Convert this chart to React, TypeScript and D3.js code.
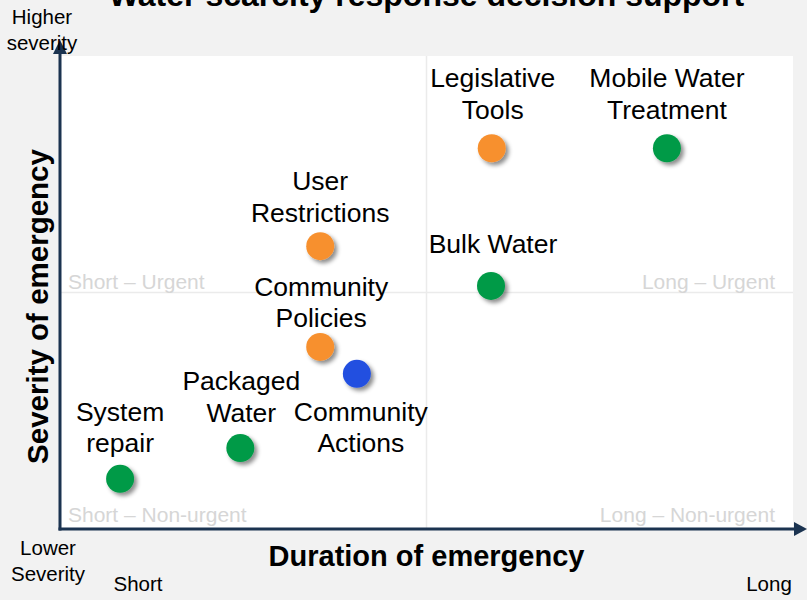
import React from "react";
import * as d3 from "d3";

const names = [
  "Legislative Tools",
  "Mobile Water Treatment",
  "User Restrictions",
  "Bulk Water",
  "Community Policies",
  "Community Actions",
  "Packaged Water",
  "System repair",
];
const labelLines = [
  ["Legislative", "Tools"],
  ["Mobile Water", "Treatment"],
  ["User", "Restrictions"],
  ["Bulk Water"],
  ["Community", "Policies"],
  ["Community", "Actions"],
  ["Packaged", "Water"],
  ["System", "repair"],
];
// duration (0 short .. 10 long)
const durationValues = [5.89, 8.28, 3.55, 5.88, 3.55, 4.05, 2.46, 0.82];
// severity (0 lower .. 10 higher)
const severityValues = [8.05, 8.05, 5.98, 5.14, 3.85, 3.28, 1.71, 1.06];
const groups = ["policy", "supply", "policy", "supply", "policy", "community", "supply", "supply"];
// label first-line baseline offset from point (px)
const labelDy = [-61, -61, -56, -33, -51, 47, -58, -58];
const labelDx = [1, 0, 0, 2, 1, 4, 1, 0];

const quadrantLabels = ["Short – Urgent", "Long – Urgent", "Short – Non-urgent", "Long – Non-urgent"];

const W = 807;
const H = 600;
const left = 60;
const right = 793;
const top = 56;
const bottom = 529;

const colorScale = d3
  .scaleOrdinal<string, string>()
  .domain(["policy", "supply", "community"])
  .range(["#F7902F", "#019A47", "#2350E0"]);

const font = "Arial, 'Liberation Sans', sans-serif";

export default function App() {
  const x = d3.scaleLinear().domain([0, 10]).range([left, right]);
  const y = d3.scaleLinear().domain([0, 10]).range([bottom, top]);
  const axisColor = "#1B3350";
  const midX = x(5);
  const midY = y(5);

  return (
    <>
      <style>{"body{margin:0}"}</style>
      <svg width={W} height={H} style={{ display: "block", fontFamily: font }}>
        <defs>
          <filter id="shadow" x="-50%" y="-50%" width="200%" height="200%">
            <feDropShadow dx="3" dy="3" stdDeviation="2" floodColor="#000" floodOpacity="0.45" />
          </filter>
        </defs>
        <rect x={0} y={0} width={W} height={H} fill="#F2F2F2" />
        <rect x={left} y={top} width={right - left} height={bottom - top} fill="#FFFFFF" />
        {/* quadrant dividers */}
        <line x1={midX} x2={midX} y1={top} y2={bottom} stroke="#EBEBEB" strokeWidth={1.5} />
        <line x1={left} x2={right} y1={midY} y2={midY} stroke="#EBEBEB" strokeWidth={1.5} />
        {/* quadrant labels */}
        <g fill="#D6D6D6" fontSize={21}>
          <text x={left + 8} y={midY - 4}>{quadrantLabels[0]}</text>
          <text x={right - 18} y={midY - 4} textAnchor="end">{quadrantLabels[1]}</text>
          <text x={left + 8} y={bottom - 7}>{quadrantLabels[2]}</text>
          <text x={right - 18} y={bottom - 7} textAnchor="end">{quadrantLabels[3]}</text>
        </g>
        {/* title */}
        <text x={midX} y={6} textAnchor="middle" fontSize={32} fontWeight="bold" fill="#000">
          Water scarcity response decision support
        </text>
        {/* axes */}
        <line x1={left} x2={left} y1={bottom + 1.5} y2={52} stroke={axisColor} strokeWidth={3} />
        <path d={`M${left},40 L${left - 7},54 L${left + 7},54 Z`} fill={axisColor} />
        <line x1={left - 1.5} x2={796} y1={bottom} y2={bottom} stroke={axisColor} strokeWidth={3} />
        <path d={`M807,${bottom} L794,${bottom - 7} L794,${bottom + 7} Z`} fill={axisColor} />
        {/* axis titles */}
        <text x={midX} y={566} textAnchor="middle" fontSize={29} fontWeight="bold" fill="#000">
          Duration of emergency
        </text>
        <text
          transform={`translate(48,${(top + bottom) / 2 + 14}) rotate(-90)`}
          textAnchor="middle"
          fontSize={29.5}
          fontWeight="bold"
          fill="#000"
        >
          Severity of emergency
        </text>
        {/* corner labels */}
        <g fontSize={20.5} fill="#000" textAnchor="middle">
          <text x={42} y={24}>Higher</text>
          <text x={42} y={50}>severity</text>
          <text x={48} y={555}>Lower</text>
          <text x={48} y={581}>Severity</text>
          <text x={138} y={591}>Short</text>
          <text x={769} y={591}>Long</text>
        </g>
        {/* points */}
        {names.map((n, i) => (
          <circle
            key={n}
            cx={x(durationValues[i])}
            cy={y(severityValues[i])}
            r={14}
            fill={colorScale(groups[i])}
            filter="url(#shadow)"
          />
        ))}
        {/* labels */}
        {names.map((n, i) => (
          <text
            key={n + "-l"}
            x={x(durationValues[i]) + labelDx[i]}
            y={y(severityValues[i]) + labelDy[i]}
            textAnchor="middle"
            fontSize={26.5}
            fill="#000"
          >
            {labelLines[i].map((line, j) => (
              <tspan key={j} x={x(durationValues[i]) + labelDx[i]} dy={j === 0 ? 0 : 31.5}>
                {line}
              </tspan>
            ))}
          </text>
        ))}
      </svg>
    </>
  );
}
